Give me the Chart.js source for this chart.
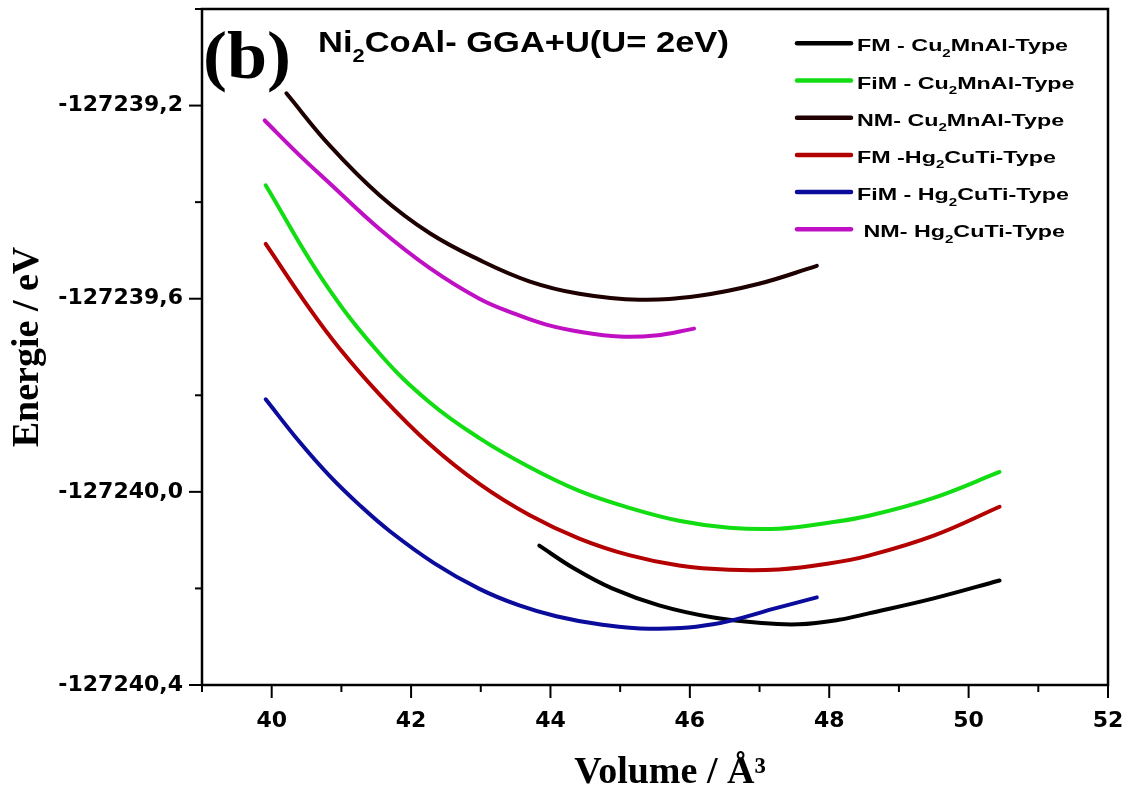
<!DOCTYPE html>
<html>
<head>
<meta charset="utf-8">
<script src="https://cdn.jsdelivr.net/npm/chart.js@4.4.0/dist/chart.umd.min.js"></script>
<style>
  body { margin: 0; background: #fff; }
  #wrap { width: 1135px; height: 792px; }
</style>
</head>
<body>
<div id="wrap"><canvas id="energyChart"></canvas></div>
<script>
// volumes in A^3, energies in eV
const fmCuVol = [43.84, 44.341, 44.885, 45.559, 46.318, 46.991, 47.564, 48.138, 48.567, 49.499, 50.444]
const fmCuE = [-127240.1114, -127240.1588, -127240.2000, -127240.2351, -127240.2598, -127240.2712, -127240.2742, -127240.2650, -127240.2516, -127240.2206, -127240.1835]

const fimCuVol = [39.914, 40.731, 41.547, 42.264, 42.98, 43.696, 44.413, 45.129, 45.845, 46.562, 47.278, 47.994, 48.567, 49.499, 50.444]
const fimCuE = [-127239.3650, -127239.5608, -127239.7134, -127239.8144, -127239.8887, -127239.9485, -127239.9980, -127240.0330, -127240.0598, -127240.0742, -127240.0763, -127240.0639, -127240.0495, -127240.0124, -127239.9588]

const nmCuVol = [40.211, 40.831, 41.547, 42.264, 42.98, 43.696, 44.413, 45.272, 46.132, 46.991, 47.822]
const nmCuE = [-127239.1746, -127239.2825, -127239.3856, -127239.4639, -127239.5196, -127239.5639, -127239.5897, -127239.6021, -127239.5938, -127239.5691, -127239.5320]

const fmHgVol = [39.914, 40.544, 40.974, 41.547, 42.264, 42.98, 43.696, 44.413, 45.129, 45.845, 46.562, 47.278, 47.994, 48.567, 49.499, 50.444]
const fmHgE = [-127239.4866, -127239.6206, -127239.7031, -127239.7980, -127239.9010, -127239.9835, -127240.0479, -127240.0967, -127240.1311, -127240.1526, -127240.1615, -127240.1608, -127240.1485, -127240.1320, -127240.0907, -127240.0309]

const fimHgVol = [39.914, 40.401, 40.831, 41.261, 41.691, 42.335, 42.98, 43.553, 44.083, 44.699, 45.415, 46.332, 47.278, 47.822]
const fimHgE = [-127239.8083, -127239.8969, -127239.9670, -127240.0275, -127240.0810, -127240.1480, -127240.2009, -127240.2353, -127240.2576, -127240.2742, -127240.2835, -127240.2742, -127240.2392, -127240.2186]

const nmHgVol = [39.9, 40.401, 40.831, 41.547, 42.264, 42.98, 43.481, 43.94, 44.484, 44.986, 45.501, 46.06]
const nmHgE = [-127239.2309, -127239.3031, -127239.3608, -127239.4557, -127239.5361, -127239.6000, -127239.6309, -127239.6536, -127239.6701, -127239.6784, -127239.6763, -127239.6619]

// "_2" marks a subscript
const seriesNames = ['FM - Cu_2MnAl-Type', 'FiM - Cu_2MnAl-Type', 'NM- Cu_2MnAl-Type', 'FM -Hg_2CuTi-Type', 'FiM - Hg_2CuTi-Type', ' NM- Hg_2CuTi-Type']
const seriesColors = ['#000000', '#12dc12', '#1e0000', '#b30000', '#0b0b9c', '#c010c4']

const volMin = 39, volMax = 52
const eMin = -127240.4, eMax = -127239.0
const xLabelled = [40, 42, 44, 46, 48, 50, 52]
const yLabelled = [-127240.4, -127240.0, -127239.6, -127239.2]

const volumes = [fmCuVol, fimCuVol, nmCuVol, fmHgVol, fimHgVol, nmHgVol]
const energies = [fmCuE, fimCuE, nmCuE, fmHgE, fimHgE, nmHgE]

function drawRich(ctx, text, x, y, size, family, sx) {
  ctx.save()
  ctx.translate(x, y)
  ctx.scale(sx, 1)
  ctx.textBaseline = 'alphabetic'
  ctx.textAlign = 'left'
  let cx = 0
  text.split(/(_\d)/).forEach(p => {
    if (!p) return
    if (p[0] === '_') {
      ctx.font = 'bold ' + Math.round(size * 0.62) + 'px ' + family
      ctx.fillText(p.slice(1), cx, size * 0.32)
      cx += ctx.measureText(p.slice(1)).width
    } else {
      ctx.font = 'bold ' + size + 'px ' + family
      ctx.fillText(p, cx, 0)
      cx += ctx.measureText(p).width
    }
  })
  ctx.restore()
}

function noPad(s) {
  s.paddingTop = 0; s.paddingBottom = 0; s.paddingLeft = 0; s.paddingRight = 0
}

const frameAndText = {
  id: 'frameAndText',
  afterDraw(chart) {
    const ctx = chart.ctx
    const a = chart.chartArea
    const xs = chart.scales.x, ys = chart.scales.y
    ctx.save()
    ctx.strokeStyle = '#000'
    ctx.lineWidth = 2.5
    ctx.strokeRect(a.left, a.top, a.right - a.left, a.bottom - a.top)
    ctx.lineWidth = 2
    xs.ticks.forEach(t => {
      const px = xs.getPixelForValue(t.value)
      const len = Math.round(t.value) % 2 === 0 ? 13 : 7
      ctx.beginPath(); ctx.moveTo(px, a.bottom); ctx.lineTo(px, a.bottom + len); ctx.stroke()
    })
    ys.ticks.forEach(t => {
      const py = ys.getPixelForValue(t.value)
      const k = Math.round((t.value - eMin) / 0.2)
      const len = k % 2 === 0 ? 13 : 7
      ctx.beginPath(); ctx.moveTo(a.left, py); ctx.lineTo(a.left - len, py); ctx.stroke()
    })

    ctx.fillStyle = '#000'
    drawRich(ctx, '(b)', 203, 78, 68, '"Liberation Serif", "Times New Roman", serif', 1.06)
    drawRich(ctx, 'Ni_2CoAl- GGA+U(U= 2eV)', 318, 52, 30, '"Liberation Sans", Arial, sans-serif', 1.15)

    // x axis title
    ctx.font = 'bold 38px "Liberation Serif", "Times New Roman", serif'
    ctx.textAlign = 'center'
    ctx.textBaseline = 'alphabetic'
    ctx.fillText('Volume / Å³', 670, 783)

    seriesNames.forEach((name, i) => {
      const y = 43.3 + i * 37.2
      ctx.strokeStyle = seriesColors[i]
      ctx.lineWidth = 4.5
      ctx.lineCap = 'round'
      ctx.beginPath(); ctx.moveTo(797, y); ctx.lineTo(851, y); ctx.stroke()
      ctx.fillStyle = '#000'
      drawRich(ctx, name, 857, y + 8, 17, '"Liberation Sans", Arial, sans-serif', 1.37)
    })
    ctx.restore()
  }
}

const ctx = document.getElementById('energyChart')
new Chart(ctx, {
  type: 'scatter',
  data: {
    datasets: seriesNames.map((name, i) => ({
      label: name.replace('_', ''),
      data: volumes[i].map((v, j) => ({ x: v, y: energies[i][j] })),
      showLine: true,
      borderColor: seriesColors[i],
      backgroundColor: seriesColors[i],
      borderWidth: 4,
      borderCapStyle: 'round',
      tension: 0.4,
      pointRadius: 0,
      order: i === 4 ? -1 : 0
    }))
  },
  options: {
    responsive: true,
    maintainAspectRatio: false,
    animation: false,
    layout: { padding: { top: 9, right: 27, left: 0, bottom: 0 } },
    plugins: { legend: { display: false }, tooltip: { enabled: false } },
    scales: {
      x: {
        type: 'linear',
        min: volMin,
        max: volMax,
        grid: { display: false },
        border: { display: false },
        ticks: {
          stepSize: 1,
          autoSkip: false,
          maxRotation: 0,
          padding: 15,
          color: '#000',
          font: { family: '"DejaVu Sans"', size: 22, weight: 'bold' },
          callback: v => xLabelled.includes(Math.round(v)) && Math.abs(v - Math.round(v)) < 1e-6 ? String(Math.round(v)) : ''
        },
        afterFit: s => { s.height = 107; noPad(s) }
      },
      y: {
        type: 'linear',
        min: eMin,
        max: eMax,
        grid: { display: false },
        border: { display: false },
        ticks: {
          stepSize: 0.2,
          autoSkip: false,
          padding: 11,
          color: '#000',
          font: { family: '"DejaVu Sans"', size: 22, weight: 'bold' },
          callback: v => yLabelled.some(l => Math.abs(l - v) < 1e-4) ? v.toFixed(1).replace('.', ',') : ''
        },
        title: {
          display: true,
          text: 'Energie / eV',
          color: '#000',
          font: { family: '"Liberation Serif"', size: 38, weight: 'bold' },
          padding: { top: 5, bottom: 0 }
        },
        afterFit: s => { s.width = 202; noPad(s) }
      }
    }
  },
  plugins: [frameAndText]
})
</script>
</body>
</html>
